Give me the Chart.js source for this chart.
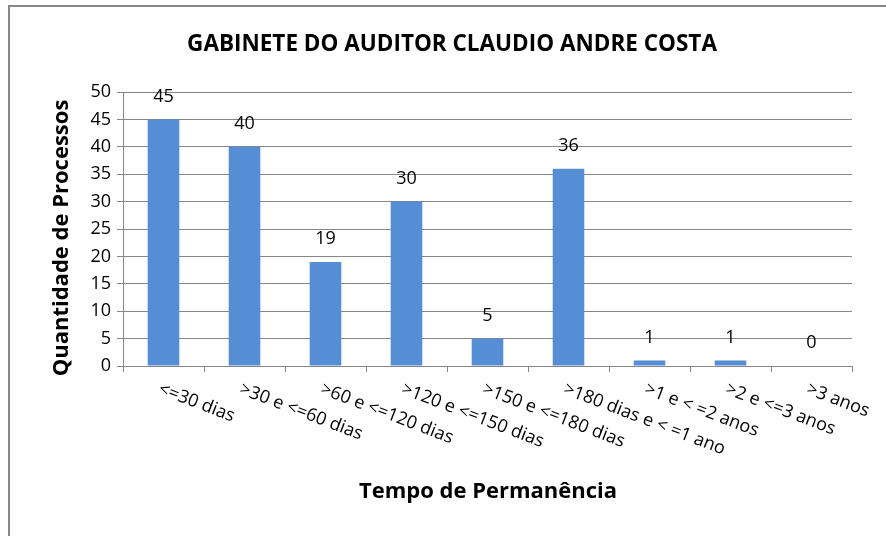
<!DOCTYPE html>
<html>
<head>
<meta charset="utf-8">
<script src="https://cdn.jsdelivr.net/npm/chart.js@4"></script>
<style>
  html, body { margin: 0; padding: 0; background: #fff; }
  #wrap { width: 886px; height: 536px; }
</style>
</head>
<body>
<div id="wrap"><canvas id="chart" width="886" height="536"></canvas></div>
<script>
const categories = [
  "<=30 dias", ">30 e <=60 dias", ">60 e <=120 dias", ">120 e <=150 dias",
  ">150 e <=180 dias", ">180 dias e < =1 ano", ">1 e < =2 anos", ">2 e <=3 anos", ">3 anos"
];
const processos = [45, 40, 19, 30, 5, 36, 1, 1, 0];
const yTicks = [0, 5, 10, 15, 20, 25, 30, 35, 40, 45, 50];

const chartTitle = "GABINETE DO AUDITOR CLAUDIO ANDRE COSTA";
const yTitle = "Quantidade de Processos";
const xTitle = "Tempo de Permanência";

const FONT = '"Open Sans", sans-serif';
const GRID = '#868686';

// frame, titles, rotated category labels and value labels
const extras = {
  id: 'extras',
  beforeDraw(chart) {
    const ctx = chart.ctx;
    ctx.save();
    ctx.fillStyle = '#fff';
    ctx.fillRect(0, 0, chart.width, chart.height);
    ctx.strokeStyle = '#888';
    ctx.lineWidth = 2;
    ctx.strokeRect(9, 6, 900, 600);
    ctx.restore();
  },
  afterDraw(chart) {
    const ctx = chart.ctx;
    const x = chart.scales.x, y = chart.scales.y;
    ctx.save();
    ctx.fillStyle = '#000';

    ctx.textAlign = 'center';
    ctx.textBaseline = 'middle';
    ctx.font = 'bold 22.5px ' + FONT;
    ctx.fillText(chartTitle, 452, 45);
    ctx.font = 'bold 22px ' + FONT;
    ctx.fillText(xTitle, 488, 492);

    ctx.save();
    ctx.translate(62, 238);
    ctx.rotate(-Math.PI / 2);
    ctx.fillText(yTitle, 0, 0);
    ctx.restore();

    ctx.font = '18px ' + FONT;
    categories.forEach((c, i) => {
      ctx.save();
      ctx.translate(x.getPixelForValue(i) - 1, 380);
      ctx.rotate(21 * Math.PI / 180);
      ctx.textAlign = 'left';
      ctx.textBaseline = 'top';
      ctx.fillText(c, 0, 0);
      ctx.restore();
    });

    ctx.textAlign = 'center';
    ctx.textBaseline = 'middle';
    processos.forEach((v, i) => {
      ctx.fillText(String(v), x.getPixelForValue(i), y.getPixelForValue(v) - 23);
    });
    ctx.restore();
  }
};

new Chart(document.getElementById('chart'), {
  type: 'bar',
  data: {
    labels: categories,
    datasets: [{
      label: 'Processos',
      data: processos,
      backgroundColor: '#558ed5',
      categoryPercentage: 1,
      barPercentage: 0.39
    }]
  },
  options: {
    responsive: false,
    animation: false,
    layout: { padding: { top: 92, right: 34, left: 0, bottom: 0 } },
    plugins: {
      legend: { display: false },
      title: { display: false },
      tooltip: { enabled: false }
    },
    scales: {
      x: {
        afterFit: s => { s.height = 170; },
        ticks: { display: false },
        grid: { offset: true, drawOnChartArea: false, color: GRID, tickLength: 6 },
        border: { color: GRID, width: 1 }
      },
      y: {
        min: 0,
        max: 50,
        afterFit: s => { s.width = 123; },
        afterBuildTicks: s => { s.ticks = yTicks.map(v => ({ value: v })); },
        ticks: { color: '#000', font: { family: FONT, size: 18 }, padding: 6 },
        grid: { color: GRID, tickLength: 6 },
        border: { color: GRID, width: 1 }
      }
    }
  },
  plugins: [extras]
});
</script>
</body>
</html>
